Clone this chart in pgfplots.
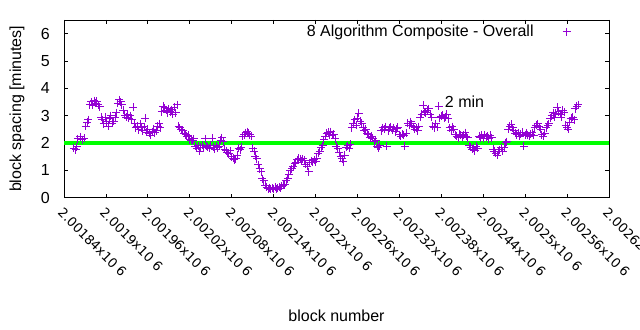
\documentclass[border=0pt]{standalone}
\usepackage{fontspec}
\setmainfont{Liberation Sans}
\newfontfamily\dejavu{DejaVu Sans}
\usepackage{pgfplots}
\pgfplotsset{compat=1.18}
\definecolor{gpviolet}{RGB}{148,0,211}
\definecolor{gpgreen}{RGB}{0,255,0}
\begin{document}
\fontsize{16bp}{19bp}\selectfont
\begin{tikzpicture}
\begin{axis}[
  at={(64bp,132.3bp)}, anchor=south west,
  scale only axis, width=545bp, height=177.8bp,
  xmin=1840, xmax=2620, ymin=0, ymax=6.5,
  xtick={1840,1900,...,2620},
  xticklabels={2.00184x10 6,2.0019x10 6,2.00196x10 6,2.00202x10 6,2.00208x10 6,2.00214x10 6,2.0022x10 6,2.00226x10 6,2.00232x10 6,2.00238x10 6,2.00244x10 6,2.0025x10 6,2.00256x10 6,2.00262x10 6},
  ytick={0,1,2,3,4,5,6},
  minor tick num=0,
  xtick pos=both, ytick pos=both,
  xticklabel pos=lower, yticklabel pos=left,
  tick align=inside,
  major tick length=4bp,
  axis line style={line width=0.8bp},
  every tick/.style={black, line width=0.8bp},
  /pgf/number format/assume math mode=true,
  xticklabel style={font=\dejavu\fontsize{13bp}{15bp}\selectfont, yshift=-9bp, rotate=-45, anchor=north west, inner sep=0pt},
  yticklabel style={anchor=east, inner sep=0pt, xshift=-14bp},
  xlabel={block number},
  xlabel style={at={(axis description cs:0.5,-0.6654)}, anchor=center, inner sep=0pt},
  ylabel={block spacing [minutes]},
  ylabel style={at={(axis description cs:-0.0862,0.5)}, anchor=center, inner sep=0pt},
  legend style={draw=none, fill=none, at={(axis description cs:0.930,0.932)}, anchor=east, inner sep=0pt, nodes={inner sep=0pt}},
  legend plot pos=right,
  legend image code/.code={\path[draw=none, fill=none] (0bp,0bp) rectangle (37bp,0.1bp); \path[#1, draw=none] plot coordinates {(33bp,0bp)};},
]
\addplot[only marks, mark=+, mark size=4bp, color=gpviolet, mark options={line width=1bp, draw=gpviolet}] coordinates {
(1854,1.80) (1857,1.75) (1858,1.86) (1860,2.15) (1863,2.22) (1866,2.12) (1869,2.18) (1871,2.62) (1873,2.75) (1875,2.85)
(1877,3.40) (1879,3.50) (1881,3.38) (1883,3.55) (1885,3.45) (1887,3.52) (1889,3.40) (1891,3.33) (1893,2.95) (1895,2.85)
(1897,2.70) (1899,2.95) (1901,2.78) (1903,2.62) (1905,2.88) (1907,3.00) (1909,2.72) (1911,2.80) (1913,2.95) (1915,3.10)
(1917,3.45) (1919,3.58) (1921,3.50) (1923,3.40) (1925,3.20) (1927,3.02) (1929,2.95) (1931,3.05) (1933,2.90) (1935,3.00)
(1937,2.85) (1939,3.30) (1941,2.70) (1943,2.55) (1945,2.62) (1947,2.48) (1949,2.70) (1951,2.55) (1953,2.45) (1955,2.60)
(1956,2.90) (1958,2.40) (1960,2.50) (1962,2.35) (1964,2.28) (1966,2.42) (1968,2.50) (1970,2.38) (1972,2.45) (1974,2.62)
(1976,2.70) (1978,2.55) (1980,3.15) (1982,3.35) (1984,3.28) (1986,3.20) (1988,3.10) (1990,3.25) (1992,3.15) (1994,3.22)
(1996,3.05) (1998,3.30) (2000,3.10) (2002,3.40) (2004,2.62) (2006,2.55) (2008,2.48) (2010,2.45) (2012,2.35) (2014,2.30)
(2016,2.25) (2018,2.28) (2020,2.12) (2022,2.10) (2024,2.08) (2026,2.15) (2028,1.88) (2030,1.80) (2032,1.90) (2034,1.70)
(2036,1.85) (2038,1.92) (2040,1.82) (2042,2.15) (2044,1.88) (2046,1.85) (2048,1.80) (2050,1.92) (2052,2.18) (2054,1.85)
(2056,1.78) (2058,1.90) (2060,1.82) (2062,1.88) (2064,2.10) (2066,2.20) (2068,2.05) (2070,1.78) (2072,1.72) (2074,1.65)
(2076,1.60) (2078,1.72) (2080,1.50) (2082,1.45) (2084,1.38) (2086,1.42) (2088,1.55) (2090,1.80) (2092,1.75) (2094,1.85)
(2096,2.25) (2098,2.30) (2100,2.38) (2102,2.42) (2104,2.35) (2106,2.30) (2108,2.25) (2110,1.80) (2112,1.70) (2114,1.52)
(2116,1.42) (2118,1.20) (2120,1.05) (2122,0.95) (2124,0.70) (2126,0.62) (2128,0.45) (2130,0.38) (2132,0.32) (2134,0.36)
(2136,0.30) (2138,0.35) (2140,0.33) (2142,0.38) (2144,0.31) (2146,0.36) (2148,0.40) (2150,0.35) (2152,0.42) (2154,0.45)
(2156,0.50) (2158,0.62) (2160,0.70) (2162,0.85) (2164,1.00) (2166,1.05) (2168,1.15) (2170,1.25) (2172,1.30) (2174,1.38)
(2176,1.45) (2178,1.40) (2180,1.35) (2182,1.42) (2184,1.36) (2186,1.22) (2188,1.15) (2190,0.95) (2192,1.28) (2194,1.35)
(2196,1.30) (2198,1.38) (2200,1.32) (2202,1.45) (2204,1.62) (2206,1.70) (2208,1.82) (2210,1.90) (2212,2.12) (2214,2.25)
(2216,2.35) (2218,2.40) (2220,2.30) (2222,2.42) (2224,2.28) (2226,2.32) (2228,2.15) (2230,1.88) (2232,1.80) (2234,1.65)
(2236,1.50) (2238,1.42) (2240,1.32) (2242,1.55) (2244,1.85) (2246,1.90) (2248,1.80) (2250,1.95) (2252,2.55) (2254,2.70)
(2256,2.85) (2258,2.65) (2260,2.90) (2262,3.08) (2264,2.80) (2266,2.72) (2268,2.55) (2270,2.45) (2272,2.50) (2274,2.35)
(2276,2.30) (2278,2.20) (2280,2.25) (2282,2.18) (2284,2.05) (2286,2.10) (2288,1.88) (2290,1.82) (2292,1.90) (2294,2.45)
(2296,2.55) (2298,2.50) (2300,2.60) (2302,1.88) (2304,2.45) (2306,2.55) (2308,2.60) (2310,2.48) (2312,2.55) (2314,2.42)
(2316,2.52) (2318,2.58) (2320,2.30) (2322,2.25) (2324,2.32) (2326,2.28) (2328,1.88) (2330,2.35) (2332,2.72) (2334,2.65)
(2336,2.78) (2338,2.70) (2340,2.60) (2342,2.50) (2344,2.55) (2346,2.45) (2348,2.60) (2350,2.95) (2352,3.05) (2354,3.38)
(2356,3.15) (2358,3.10) (2360,3.20) (2362,3.25) (2364,3.05) (2366,2.95) (2368,2.62) (2370,2.55) (2372,2.70) (2374,2.58)
(2376,3.35) (2378,2.92) (2380,2.98) (2382,3.02) (2384,2.90) (2386,2.95) (2388,3.05) (2390,2.88) (2392,2.55) (2394,2.45)
(2396,2.60) (2398,2.50) (2400,2.30) (2402,2.25) (2404,2.20) (2406,2.32) (2408,2.28) (2410,2.22) (2412,2.30) (2414,2.38)
(2416,2.25) (2418,2.20) (2420,1.90) (2422,1.85) (2424,1.78) (2426,1.82) (2428,1.72) (2430,1.88) (2432,1.80) (2434,2.25)
(2436,2.20) (2438,2.28) (2440,2.18) (2442,2.30) (2444,2.22) (2446,2.25) (2448,2.15) (2450,2.28) (2452,2.20) (2454,1.78)
(2456,1.70) (2458,1.62) (2460,1.55) (2462,1.68) (2464,1.75) (2466,1.82) (2468,1.70) (2470,1.85) (2472,2.00) (2474,2.05)
(2476,2.50) (2478,2.62) (2480,2.68) (2482,2.55) (2484,2.45) (2486,2.35) (2488,2.30) (2490,2.38) (2492,2.25) (2494,2.32)
(2496,2.40) (2498,1.88) (2500,2.28) (2502,2.35) (2504,2.30) (2506,2.25) (2508,2.32) (2510,2.38) (2512,2.28) (2514,2.55)
(2516,2.65) (2518,2.70) (2520,2.60) (2522,2.50) (2524,2.30) (2526,2.25) (2528,2.35) (2530,2.55) (2532,2.65) (2534,2.70)
(2536,2.90) (2538,3.00) (2540,3.10) (2542,2.95) (2544,3.08) (2546,3.30) (2548,3.15) (2550,3.05) (2552,2.95) (2554,3.20)
(2556,3.12) (2558,2.65) (2560,2.58) (2562,2.50) (2564,2.75) (2566,2.90) (2568,2.95) (2570,2.85) (2572,3.25) (2574,3.35)
(2576,3.40)
};
\addlegendentry{8 Algorithm Composite - Overall}
\addplot[color=gpgreen, line width=4.5bp, forget plot] coordinates {(1840,2) (2620,2)};
\node[anchor=west, inner sep=0pt] at (axis cs:2385,3.52) {2 min};
\end{axis}
\pgfresetboundingbox
\path[use as bounding box] (0bp,0bp) rectangle (640bp,330bp);
\end{tikzpicture}
\end{document}
